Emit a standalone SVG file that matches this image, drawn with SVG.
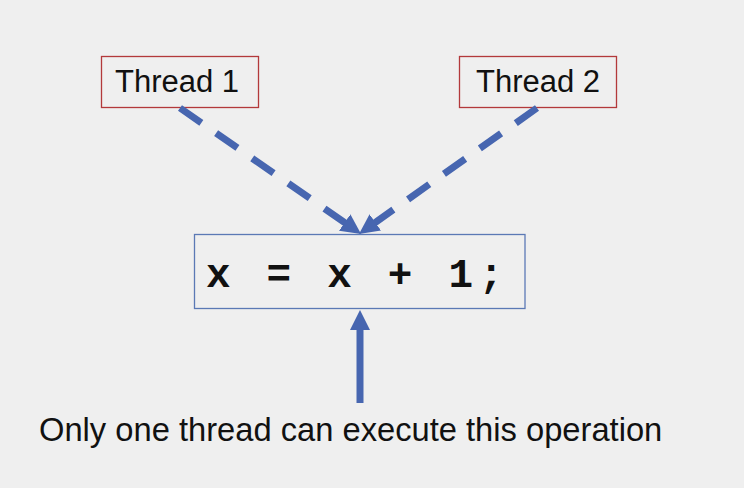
<svg xmlns="http://www.w3.org/2000/svg" width="744" height="488" viewBox="0 0 744 488">
  <style>
    .thread-box { fill: none; stroke: #b3393b; stroke-width: 1.3; }
    .code-box { fill: none; stroke: #5b79b5; stroke-width: 1.3; }
    .label { font-family: "Liberation Sans", Arial, sans-serif; font-size: 31px; fill: #111; }
    .code { font-family: "Liberation Mono", "Courier New", monospace; font-weight: bold; font-size: 41px; letter-spacing: 5.7px; fill: #111; }
    .caption { font-family: "Liberation Sans", Arial, sans-serif; font-size: 32.7px; fill: #111; }
    .conn { stroke: #4766b0; stroke-width: 7; fill: none; }
    .dashed { stroke-dasharray: 26 18; }
  </style>
  <defs>
    <marker id="head" viewBox="0 0 20 20" markerUnits="userSpaceOnUse" markerWidth="20" markerHeight="20" refX="2" refY="10" orient="auto">
      <path d="M0,0 L20,10 L0,20 z" fill="#4766b0"/>
    </marker>
  </defs>
  <rect width="744" height="488" fill="#efefef"/>

  <g id="thread1">
    <rect class="thread-box" x="101.5" y="56.5" width="157" height="51"/>
    <text class="label" x="177" y="92" text-anchor="middle">Thread 1</text>
  </g>
  <g id="thread2">
    <rect class="thread-box" x="459.5" y="56.5" width="157" height="51"/>
    <text class="label" x="538" y="92" text-anchor="middle">Thread 2</text>
  </g>
  <g id="code">
    <rect class="code-box" x="194.5" y="234.5" width="330.5" height="74"/>
    <text class="code" x="206" y="287">x = x + 1;</text>
  </g>
  <g id="caption">
    <text class="caption" x="39" y="441">Only one thread can execute this operation</text>
  </g>

  <g id="connectors">
    <line class="conn dashed" x1="180" y1="108" x2="346.3" y2="223.7" marker-end="url(#head)"/>
    <line class="conn dashed" x1="537" y1="108" x2="373.7" y2="223.6" marker-end="url(#head)"/>
    <line class="conn" x1="360" y1="403" x2="360" y2="328" marker-end="url(#head)"/>
  </g>
</svg>
